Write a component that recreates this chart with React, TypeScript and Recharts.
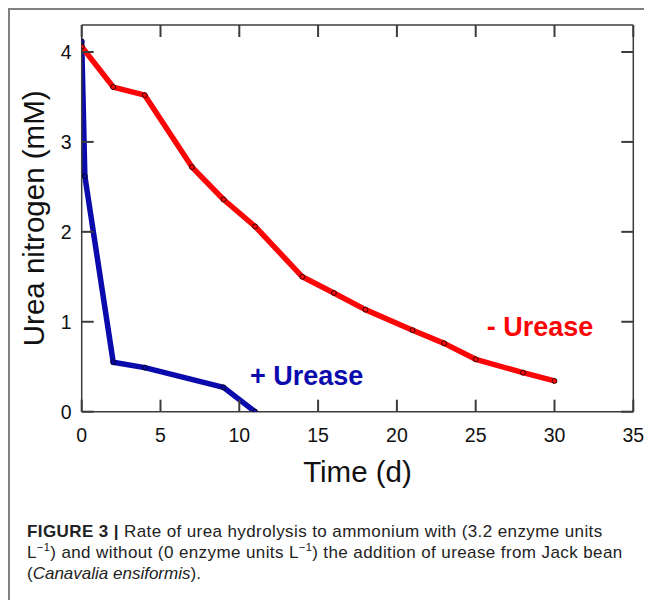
import { ComposedChart, Line, Scatter, XAxis, YAxis, Label } from "recharts";

// time (d) and urea nitrogen (mM)
const minusTime = [0, 2, 4, 7, 9, 11, 14, 16, 18, 21, 23, 25, 28, 30];
const minusUrea = [4.06, 3.61, 3.52, 2.72, 2.36, 2.06, 1.5, 1.32, 1.135, 0.906, 0.76, 0.583, 0.434, 0.342];
const plusTime = [0, 0.2, 2, 4, 9, 11];
const plusUrea = [4.12, 2.62, 0.55, 0.49, 0.27, 0];

const xTicks = [0, 5, 10, 15, 20, 25, 30, 35];
const yTicks = [0, 1, 2, 3, 4];

const minusData = minusTime.map((x, i) => ({ x, y: minusUrea[i] }));
const plusData = plusTime.map((x, i) => ({ x, y: plusUrea[i] }));

// in-plot series labels (data coords of text start / baseline)
const plusLabel = [{ x: 10.68, y: 0.3, text: "+ Urease" }];
const minusLabel = [{ x: 25.7, y: 0.838, text: "- Urease" }];

const RED = "#fb0606";
const BLUE = "#0a0aad";
const AXIS = "#3c3c3c";
const TICK_COLOR = "#3c3c3c";
const FONT = "'Liberation Sans', Arial, sans-serif";

// label + inward tick mark drawn together
const BottomTick = ({ x, y, payload }: any) => (
  <g>
    <path d={`M${x},${y}v-12`} stroke={TICK_COLOR} strokeWidth={2} fill="none" />
    <text x={x} y={y + 30} textAnchor="middle" fontSize={19.5} fill="#111" fontFamily={FONT}>
      {payload.value}
    </text>
  </g>
);

const LeftTick = ({ x, y, payload }: any) => (
  <g>
    <path d={`M${x},${y}h12`} stroke={TICK_COLOR} strokeWidth={2} fill="none" />
    <text x={x - 10} y={y + 7} textAnchor="end" fontSize={19.5} fill="#111" fontFamily={FONT}>
      {payload.value}
    </text>
  </g>
);

const TopTick = ({ x, y }: any) => (
  <path d={`M${x},${y}v12`} stroke={TICK_COLOR} strokeWidth={2} fill="none" />
);

const RightTick = ({ x, y }: any) => (
  <path d={`M${x},${y}h-12`} stroke={TICK_COLOR} strokeWidth={2} fill="none" />
);

const labelShape = (color: string) => (p: any) => (
  <text x={p.cx} y={p.cy} fill={color} fontSize={27} fontWeight="bold" fontFamily={FONT}>
    {p.payload.text}
  </text>
);

export default function App() {
  return (
    <div
      style={{
        position: "relative",
        width: 644,
        height: 592,
        boxSizing: "border-box",
        borderTop: "2px solid #808080",
        borderLeft: "2px solid #808080",
        background: "#fff",
      }}
    >
      <div style={{ position: "absolute", left: 0, top: 0 }}>
        <ComposedChart
          width={642}
          height={500}
          margin={{ top: 14, right: 17.7, left: 21.7, bottom: 68.3 }}
        >
          <XAxis
            dataKey="x"
            type="number"
            domain={[0, 35]}
            ticks={xTicks}
            height={30}
            stroke={AXIS}
            strokeWidth={1.5}
            tickSize={0}
            tickMargin={0}
            tickLine={false}
            tick={BottomTick}
            allowDataOverflow
          >
            <Label
              content={({ viewBox }: any) => (
                <text
                  x={viewBox.x + viewBox.width / 2}
                  y={viewBox.y + 70}
                  textAnchor="middle"
                  fontSize={29.5}
                  fill="#111"
                  fontFamily={FONT}
                >
                  Time (d)
                </text>
              )}
            />
          </XAxis>
          <XAxis
            xAxisId="top"
            orientation="top"
            dataKey="x"
            type="number"
            domain={[0, 35]}
            ticks={xTicks}
            height={1}
            stroke={AXIS}
            strokeWidth={1.5}
            tickSize={0}
            tickMargin={0}
            tickLine={false}
            tick={TopTick}
            allowDataOverflow
          />
          <YAxis
            type="number"
            domain={[0, 4.3]}
            ticks={yTicks}
            width={50}
            stroke={AXIS}
            strokeWidth={1.5}
            tickSize={0}
            tickMargin={0}
            tickLine={false}
            tick={LeftTick}
            allowDataOverflow
          >
            <Label
              content={({ viewBox }: any) => {
                const cx = viewBox.x + 12.8;
                const cy = viewBox.y + viewBox.height / 2;
                return (
                  <text
                    x={cx}
                    y={cy}
                    transform={`rotate(-90, ${cx}, ${cy})`}
                    textAnchor="middle"
                    fontSize={29.5}
                    fill="#111"
                    fontFamily={FONT}
                  >
                    Urea nitrogen (mM)
                  </text>
                );
              }}
            />
          </YAxis>
          <YAxis
            yAxisId="right"
            orientation="right"
            type="number"
            domain={[0, 4.3]}
            ticks={yTicks}
            width={1}
            stroke={AXIS}
            strokeWidth={1.5}
            tickSize={0}
            tickMargin={0}
            tickLine={false}
            tick={RightTick}
            allowDataOverflow
          />
          <Line
            data={plusData}
            dataKey="y"
            stroke={BLUE}
            strokeWidth={5.5}
            strokeLinejoin="round"
            dot={{ r: 2.5, fill: BLUE, stroke: "#000", strokeWidth: 0.8 }}
            isAnimationActive={false}
          />
          <Line
            data={minusData}
            dataKey="y"
            stroke={RED}
            strokeWidth={5.5}
            strokeLinejoin="round"
            dot={{ r: 2.5, fill: RED, stroke: "#000", strokeWidth: 0.8 }}
            isAnimationActive={false}
          />
          {/* the labels ride on the top/right axes so those axes carry data and draw their ticks */}
          <Scatter
            data={plusLabel}
            dataKey="y"
            xAxisId="top"
            yAxisId="right"
            shape={labelShape(BLUE)}
            isAnimationActive={false}
          />
          <Scatter
            data={minusLabel}
            dataKey="y"
            xAxisId="top"
            yAxisId="right"
            shape={labelShape(RED)}
            isAnimationActive={false}
          />
        </ComposedChart>
      </div>
      <div
        style={{
          position: "absolute",
          left: 17,
          top: 511,
          width: 625,
          fontFamily: FONT,
          fontSize: 17,
          lineHeight: "21px",
          letterSpacing: 0.4,
          color: "#222",
          whiteSpace: "nowrap",
        }}
      >
        <div>
          <b>FIGURE 3 |</b> Rate of urea hydrolysis to ammonium with (3.2 enzyme units
        </div>
        <div>
          L<sup style={{ fontSize: 11, lineHeight: 0 }}>−1</sup>) and without (0 enzyme units L
          <sup style={{ fontSize: 11, lineHeight: 0 }}>−1</sup>) the addition of urease from Jack bean
        </div>
        <div style={{ letterSpacing: 0 }}>
          (<i>Canavalia ensiformis</i>).
        </div>
      </div>
    </div>
  );
}
